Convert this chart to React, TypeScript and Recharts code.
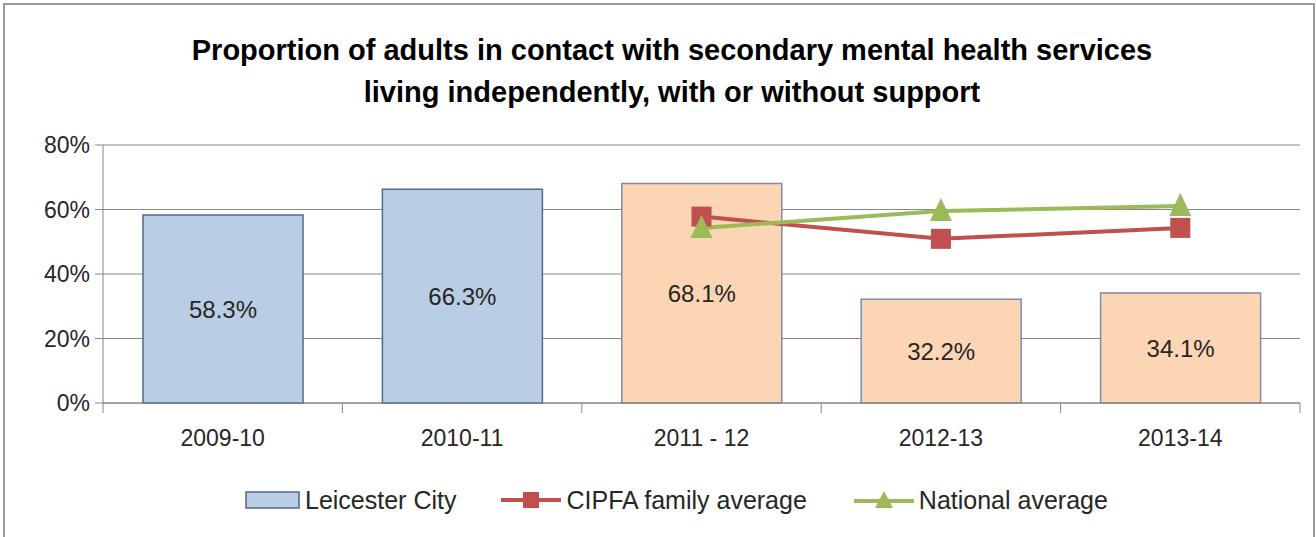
import { ComposedChart, Bar, Line, XAxis, YAxis, CartesianGrid, Legend, LabelList, Cell } from 'recharts';

const years = ['2009-10', '2010-11', '2011 - 12', '2012-13', '2013-14'];
const leicester = [58.3, 66.3, 68.1, 32.2, 34.1];
const cipfa = [null, null, 57.8, 50.9, 54.3];
const national = [null, null, 54.3, 59.5, 61.1];
const yTicks = [0, 20, 40, 60, 80];

const BLUE_FILL = '#b9cde5';
const BLUE_EDGE = '#4f6a8f';
const ORANGE_FILL = '#fcd5b5';
const ORANGE_EDGE = '#7d8ba3';
const RED = '#c0504d';
const GREEN = '#9bbb59';
const FONT = '"Liberation Sans", Arial, sans-serif';

const data = years.map((year, i) => ({
    year,
    leicester: leicester[i],
    cipfa: cipfa[i],
    national: national[i],
}));

const TICK_SIZE = 10;
const TICK_MARGIN = 12;

function YearTick(props: any) {
    const { x, y, payload, index, visibleTicksCount } = props;
    const off = payload.offset || 0;
    const top = y - TICK_SIZE - TICK_MARGIN;
    return (
        <g>
            <line x1={x - off} x2={x - off} y1={top} y2={top + TICK_SIZE} stroke="#868686" />
            {index === visibleTicksCount - 1 && (
                <line x1={x + off} x2={x + off} y1={top} y2={top + TICK_SIZE} stroke="#868686" />
            )}
            <text x={x} y={y + 21} textAnchor="middle" fontSize={23} fill="#262626" fontFamily={FONT}>
                {payload.value}
            </text>
        </g>
    );
}

function SquareDot(props: any) {
    const { cx, cy, value } = props;
    if (value == null || cx == null || cy == null) return null;
    return <rect x={cx - 10} y={cy - 10} width={20} height={20} fill={RED} />;
}

function TriangleDot(props: any) {
    const { cx, cy, value } = props;
    if (value == null || cx == null || cy == null) return null;
    return <path d={`M${cx},${cy - 13} L${cx + 11},${cy + 10} L${cx - 11},${cy + 10} Z`} fill={GREEN} />;
}

function LegendContent() {
    const text = { fontSize: 25, color: '#262626', fontFamily: FONT, marginLeft: 5 };
    return (
        <div style={{ display: 'flex', justifyContent: 'flex-start', alignItems: 'center', height: 30, paddingLeft: 245 }}>
            <svg width={55} height={18}>
                <rect x={1} y={1} width={53} height={16} fill={BLUE_FILL} stroke={BLUE_EDGE} strokeWidth={1.5} />
            </svg>
            <span style={text}>Leicester City</span>
            <svg width={60} height={20} style={{ marginLeft: 45 }}>
                <line x1={0} x2={60} y1={10} y2={10} stroke={RED} strokeWidth={4} />
                <rect x={22} y={2} width={16} height={16} fill={RED} />
            </svg>
            <span style={text}>CIPFA family average</span>
            <svg width={60} height={20} style={{ marginLeft: 47 }}>
                <line x1={0} x2={60} y1={11} y2={11} stroke={GREEN} strokeWidth={4} />
                <path d="M30,1 L39,18 L21,18 Z" fill={GREEN} />
            </svg>
            <span style={text}>National average</span>
        </div>
    );
}

export default function App() {
    return (
        <div style={{ position: 'relative', width: 1316, height: 537, background: '#fff', overflow: 'hidden' }}>
            <style>{'body{margin:0}'}</style>
            <div style={{ position: 'absolute', left: 3, top: 3, width: 1308, height: 560, borderTop: '2px solid #9a9a9a', borderLeft: '2px solid #9a9a9a', borderRight: '2px solid #9a9a9a' }} />
            <div style={{ position: 'absolute', left: 14, top: 29, width: 1316, textAlign: 'center', fontFamily: FONT, fontWeight: 'bold', fontSize: 29, lineHeight: '42px', color: '#000' }}>
                Proportion of adults in contact with secondary mental health services
                <br />
                living independently, with or without support
            </div>
            <div style={{ position: 'absolute', left: 0, top: 0 }}>
                <ComposedChart width={1316} height={537} data={data} margin={{ top: 145, right: 16, left: 0, bottom: 0 }}>
                    <CartesianGrid vertical={false} stroke="#868686" />
                    <XAxis
                        dataKey="year"
                        tick={<YearTick />}
                        tickLine={false}
                        tickSize={TICK_SIZE}
                        tickMargin={TICK_MARGIN}
                        axisLine={{ stroke: '#868686' }}
                        height={104}
                        interval={0}
                    />
                    <YAxis
                        domain={[0, 80]}
                        ticks={yTicks}
                        tickFormatter={(v: number) => `${v}%`}
                        width={103}
                        tickSize={8}
                        tickMargin={5}
                        axisLine={{ stroke: '#868686' }}
                        tickLine={{ stroke: '#868686' }}
                        tick={{ fontSize: 23, fill: '#262626', fontFamily: FONT }}
                    />
                    <Legend verticalAlign="bottom" content={<LegendContent />} wrapperStyle={{ bottom: 22, left: 0, width: 1316 }} />
                    <Bar dataKey="leicester" barSize={160} isAnimationActive={false} strokeWidth={1.5}>
                        {data.map((d, i) => (
                            <Cell key={d.year} fill={i < 2 ? BLUE_FILL : ORANGE_FILL} stroke={i < 2 ? BLUE_EDGE : ORANGE_EDGE} />
                        ))}
                        <LabelList
                            dataKey="leicester"
                            position="center"
                            formatter={(v: any) => `${Number(v).toFixed(1)}%`}
                            style={{ fontSize: 24, fill: '#262626', fontFamily: FONT }}
                        />
                    </Bar>
                    <Line dataKey="cipfa" stroke={RED} strokeWidth={4} dot={<SquareDot />} activeDot={false} isAnimationActive={false} connectNulls={false} />
                    <Line dataKey="national" stroke={GREEN} strokeWidth={4} dot={<TriangleDot />} activeDot={false} isAnimationActive={false} connectNulls={false} />
                </ComposedChart>
            </div>
        </div>
    );
}
